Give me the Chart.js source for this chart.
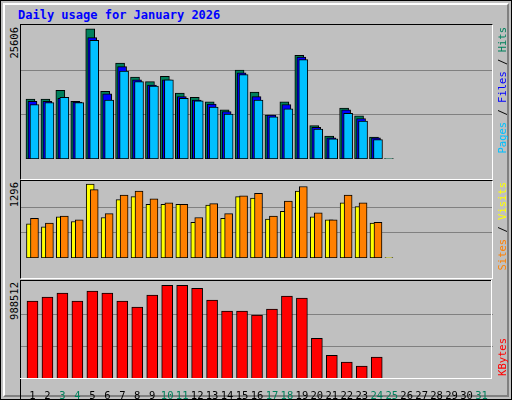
<!DOCTYPE html>
<html><head><meta charset="utf-8">
<script src="https://cdn.jsdelivr.net/npm/chart.js@4"></script>
<style>
body{margin:0;width:512px;height:400px;overflow:hidden;background:#fff;font-family:"DejaVu Sans Mono",monospace}
#outer{position:absolute;left:0;top:0;width:510px;height:398px;border:1px solid #000;background:#c0c0c0}
#inner{position:absolute;left:2px;top:2px;width:502px;height:390px;border-top:2px solid #fff;border-left:2px solid #fff;border-right:2px solid #808080;border-bottom:2px solid #808080}
.t{position:absolute;left:18px;top:8px;color:#0000ff;font-weight:bold;font-size:12px}
.box{position:absolute;left:20px;width:471px;border-top:1px solid #000;border-left:1px solid #000;border-right:1px solid #fff;border-bottom:1px solid #fff}
canvas{position:absolute;left:0;top:0}
.v{position:absolute;writing-mode:vertical-rl;transform:rotate(180deg);font-size:10.5px;white-space:pre}
</style></head><body>
<div id="outer"><div id="inner"></div></div>
<div class="t">Daily usage for January 2026</div>
<div class="box" style="top:24px;height:154px"><canvas id="c1" width="471" height="154"></canvas></div>
<div class="box" style="top:180px;height:97px"><canvas id="c2" width="471" height="97"></canvas></div>
<div class="box" style="top:280px;height:118px;border:none;border-top:1px solid #000;border-left:1px solid #000"><canvas id="c3" width="472" height="118"></canvas></div>
<div style="position:absolute;left:20px;top:378px;width:472px;height:1px;background:#fff"></div>
<div style="position:absolute;left:491px;top:280px;width:1px;height:99px;background:#fff"></div>
<div class="v" style="left:8px;top:27px;color:#000">25606</div>
<div class="v" style="left:8px;top:182px;color:#000">1296</div>
<div class="v" style="left:8px;top:282px;color:#000">988512</div>
<div class="v" style="left:496px;top:27px"><span style="color:#00c0ff">Pages</span> / <span style="color:#0000ff">Files</span> / <span style="color:#00805c">Hits</span></div>
<div class="v" style="left:496px;top:182px"><span style="color:#ff8000">Sites</span> / <span style="color:#ffff00">Visits</span></div>
<div class="v" style="left:496px;top:338px;color:#ff0000">KBytes</div>
<script>
const days=Array.from({length:31},(_,i)=>String(i+1));
const weekend=[3,4,10,11,17,18,24,25,31];
const hits=[11430,11430,13111,11038,24877,12943,18322,15632,14792,15800,12607,11766,10926,9413,16977,12775,8404,10926,19834,6387,4370,9749,8236,4202,90,null,null,null,null,null,null];
const files=[11038,11038,11598,10870,23196,12439,17649,15128,14119,15128,11934,11262,10478,9077,16473,11934,8404,10422,19498,6051,4034,9413,7732,4034,null,null,null,null,null,null,null];
const pages=[10422,10758,11766,10758,22692,11262,16809,14792,13951,15128,11598,11094,9917,8572,16137,11262,8068,9581,18994,5715,3866,8741,7228,3698,null,null,null,null,null,null,null];
const visits=[576,524,694,615,1244,681,982,1034,903,903,903,602,890,668,1034,1008,655,786,1126,694,642,930,864,589,5,null,null,null,null,null,null];
const sites=[668,589,707,642,1152,746,1060,1126,995,930,903,681,916,746,1047,1087,707,956,1204,759,642,1060,930,602,null,null,null,null,null,null,null];
const kbytes=[786000,826000,866000,786000,886000,866000,786000,726000,846000,945000,945000,915000,796000,686000,686000,646000,706000,836000,816000,409000,240000,170000,130000,220000,4000,null,null,null,null,null,null];
const maxes=[25606,1296,988512];

const grid={id:'grid',beforeDatasetsDraw(ch){const y=ch.scales.y,c=ch.ctx,m=y.max;c.save();c.strokeStyle='#808080';c.lineWidth=1;
 [m/3,2*m/3].forEach(v=>{const p=Math.round(y.getPixelForValue(v))+0.5;c.beginPath();c.moveTo(0,p);c.lineTo(ch.width,p);c.stroke();});c.restore();}};
// offset overlapping bars within a day (dataset 0 is drawn on top)
const shift={id:'shift',afterDatasetsUpdate(ch){ch.data.datasets.forEach((d,i)=>{const dx=d.dx||0;ch.getDatasetMeta(i).data.forEach(el=>{el.x+=dx;});});}};
function ds(data,color,w,dx){return {data,backgroundColor:color,borderColor:'#000',borderWidth:1,borderSkipped:false,barThickness:w,grouped:false,dx};}
function make(id,datasets,max,showX){
 return new Chart(document.getElementById(id),{type:'bar',data:{labels:days,datasets},plugins:[grid,shift],
 options:{responsive:false,animation:false,devicePixelRatio:1,layout:{padding:{left:4,right:4,top:0,bottom:0}},
 plugins:{legend:{display:false},tooltip:{enabled:false}},
 scales:{y:{display:false,min:0,max},
  x:{display:showX,offset:true,grid:{display:false},border:{display:false},
   afterFit(s){s.height=20;},
   ticks:{padding:3,maxRotation:0,autoSkip:false,font:{family:'DejaVu Sans Mono',size:10.5},color:c=>weekend.includes(c.index+1)?'#00805c':'#000'}}}}});
}
make('c1',[ds(pages,'#00c0ff',9,2),ds(files,'#0000ff',9,0),ds(hits,'#00805c',9,-2)],maxes[0],false);
make('c2',[ds(sites,'#ff8000',8,2),ds(visits,'#ffff00',8,-2)],maxes[1],false);
make('c3',[ds(kbytes,'#ff0000',11,0)],maxes[2],true);
</script></body></html>
